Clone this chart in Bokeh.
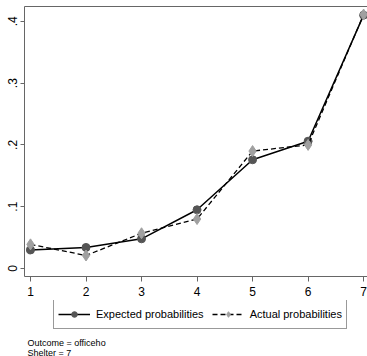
from bokeh.plotting import figure
from bokeh.layouts import column
from bokeh.models import (Range1d, FixedTicker, LinearAxis, Legend, LegendItem,
                          Label, ColumnDataSource)
from bokeh.embed import file_html
from bokeh.resources import INLINE

# ---- data ----
outcome_levels = [1, 2, 3, 4, 5, 6, 7]
expected_probs = [0.030, 0.034, 0.048, 0.095, 0.176, 0.206, 0.410]
actual_probs = [0.039, 0.021, 0.057, 0.080, 0.190, 0.200, 0.411]
x_ticks = [1, 2, 3, 4, 5, 6, 7]
y_ticks = [0, 0.1, 0.2, 0.3, 0.4]
y_tick_labels = ["0", ".1", ".2", ".3", ".4"]
legend_labels = ["Expected probabilities", "Actual probabilities"]
note_lines = ["Outcome = officeho", "Shelter = 7"]

FONT = "Liberation Sans"
AXIS_COLOR = "#666666"

EXP_LINE = dict(line_color="black", line_width=1.5)
EXP_MARK = dict(marker="circle", size=8, fill_color="#555555", line_color="#555555")
ACT_LINE = dict(line_color="black", line_width=1.3, line_dash="5 3")
ACT_MARK = dict(marker="diamond", size=11, fill_color="#a0a0a0", line_color="#a0a0a0")

src = ColumnDataSource(dict(x=outcome_levels, exp=expected_probs, act=actual_probs))

# ---------------- main plot ----------------
p = figure(width=367, height=300, output_backend="svg", toolbar_location=None,
           x_range=Range1d(0.892, 7.07), y_range=Range1d(-0.013, 0.424),
           min_border_left=24, min_border_right=0, min_border_top=6,
           min_border_bottom=24, background_fill_color="white",
           border_fill_color="white")
p.outline_line_color = None
p.grid.visible = False

xa = p.xaxis[0]
xa.ticker = FixedTicker(ticks=x_ticks)
xa.axis_line_color = AXIS_COLOR
xa.major_tick_line_color = AXIS_COLOR
xa.minor_tick_line_color = None
xa.major_tick_in = 0
xa.major_tick_out = 5
xa.major_label_standoff = 5
xa.major_label_text_font = FONT
xa.major_label_text_font_size = "12px"
xa.major_label_text_color = "black"

ya = p.yaxis[0]
ya.ticker = FixedTicker(ticks=y_ticks)
ya.major_label_overrides = {t: l for t, l in zip(y_ticks, y_tick_labels)}
ya.axis_line_color = AXIS_COLOR
ya.major_tick_line_color = AXIS_COLOR
ya.minor_tick_line_color = None
ya.major_tick_in = 0
ya.major_tick_out = 4
ya.major_label_standoff = 3
ya.major_label_orientation = "vertical"
ya.major_label_text_font = FONT
ya.major_label_text_font_size = "12px"
ya.major_label_text_color = "black"

top = LinearAxis(ticker=FixedTicker(ticks=[]), axis_line_color=AXIS_COLOR,
                 major_tick_in=0, major_tick_out=0, minor_tick_in=0,
                 minor_tick_out=0, major_label_text_font_size="0px",
                 major_label_standoff=0)
p.add_layout(top, "above")

p.line("x", "exp", source=src, **EXP_LINE)
p.scatter("x", "exp", source=src, **EXP_MARK)
p.line("x", "act", source=src, **ACT_LINE)
p.scatter("x", "act", source=src, **ACT_MARK)

# ---------------- legend + notes strip ----------------
# ranges chosen so the series themselves fall outside this strip's view;
# the renderers only provide the legend's glyph styles
q = figure(width=367, height=56, output_backend="svg", toolbar_location=None,
           x_axis_type=None, y_axis_type=None, x_range=Range1d(100, 101),
           y_range=Range1d(100, 101), min_border_left=24, min_border_right=0,
           min_border_top=0, min_border_bottom=0,
           background_fill_color="white", border_fill_color="white")
q.outline_line_color = None
q.grid.visible = False

ql1 = q.line("x", "exp", source=src, **EXP_LINE)
qs1 = q.scatter("x", "exp", source=src, **EXP_MARK)
ql2 = q.line("x", "act", source=src, **ACT_LINE)
qs2 = q.scatter("x", "act", source=src, **ACT_MARK)

legend = Legend(items=[LegendItem(label=legend_labels[0], renderers=[ql1, qs1]),
                       LegendItem(label=legend_labels[1], renderers=[ql2, qs2])],
                location=(29, 27), orientation="horizontal",
                label_text_font=FONT, label_text_font_size="11px",
                label_text_color="black", glyph_width=32, glyph_height=14,
                label_height=21, label_standoff=6, spacing=8, padding=4,
                margin=0, border_line_color="#333333", border_line_width=1,
                background_fill_color="white", background_fill_alpha=1)
q.add_layout(legend)

for i, txt in enumerate(note_lines):
    q.add_layout(Label(x=3, y=19 - 10 * i, x_units="screen", y_units="screen",
                       text=txt, text_font=FONT, text_font_size="9px",
                       text_baseline="top", text_color="black"))

layout = column(p, q, spacing=0)
open("out.html", "w").write(file_html(layout, INLINE))
